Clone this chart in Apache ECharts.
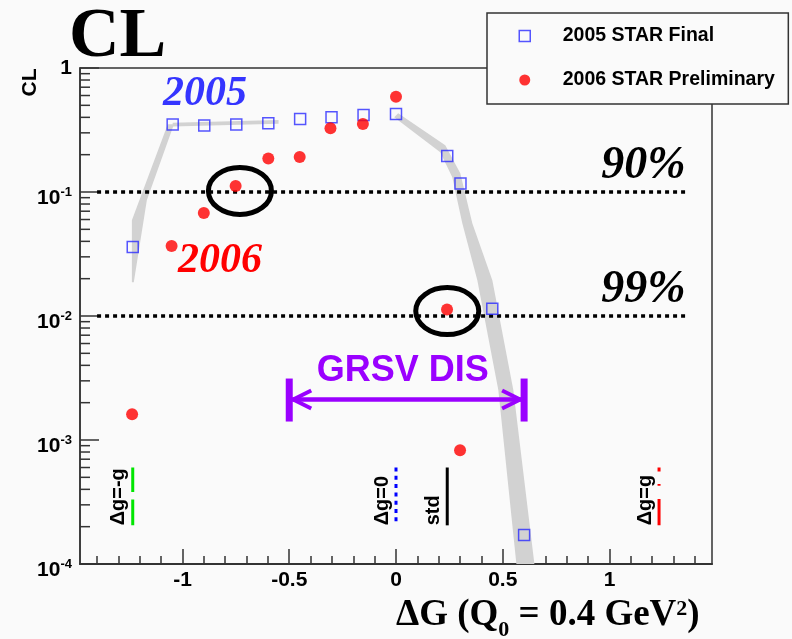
<!DOCTYPE html>
<html><head><meta charset="utf-8">
<script src="https://cdn.jsdelivr.net/npm/echarts@6/dist/echarts.min.js"></script>
<style>html,body{margin:0;padding:0;background:#fafafa}#c{width:792px;height:639px}</style>
</head><body><div id="c"></div>
<script>
// ---- data ----
const dg2005 = [-1.233,-1.046,-0.898,-0.748,-0.598,-0.449,-0.302,-0.152,0,0.240,0.302,0.451,0.600];
const cl2005 = [0.036,0.351,0.343,0.351,0.358,0.388,0.400,0.418,0.426,0.195,0.117,0.01145,0.000171];
const dg2006 = [-1.236,-1.051,-0.900,-0.751,-0.598,-0.451,-0.307,-0.155,0,0.239,0.300];
const cl2006 = [0.00161,0.0367,0.0677,0.1117,0.186,0.1915,0.327,0.353,0.587,0.0113,0.000826];

// 2005 uncertainty band outlines [dG, CL]
const bandLeft = [[-1.069,0.352],[-1.040,0.352],[-1.167,0.0857],[-1.228,0.0187],[-1.237,0.0187],[-1.237,0.0591]];
const bandFlat = [[-1.046,0.362],[-0.55,0.380],[-0.55,0.355],[-1.046,0.338]];
const bandRight = [[0.0103,0.431],[0.2308,0.238],[0.3011,0.1415],[0.3574,0.056],[0.4512,0.0194],[0.5497,0.00252],[0.6482,0.0001],
                   [0.5638,0.0001],[0.4794,0.00252],[0.3809,0.0194],[0.3105,0.056],[0.2636,0.1315],[0.2073,0.209],[-0.0084,0.400]];

const clLevels = [0.1, 0.01];
const clLevelLabels = ['90%', '99%'];
const clLineFrom = -1.40, clLineTo = 1.356;

const theoryX = [-1.233, 0, 0.240, 1.232];
const theoryLabels = ['\u0394g=-g', '\u0394g=0', 'std', '\u0394g=g'];
const theoryColors = ['#00e600', '#0000ff', '#000000', '#ff0000'];
const theoryDash = [[24.4,7.6,40,0], [4,4.3], null, [4,12.6,1.7,13.3,40,0]];
const theoryTop = 6.0e-4, theoryBottom = 2.05e-4;

const grsvFrom = -0.5, grsvTo = 0.6, grsvCL = 2.12e-3;
const circled = [[-0.731, 0.102], [0.240, 0.01096]];

const xMajor = [-1, -0.5, 0, 0.5, 1];
const xMinor = [-1.4,-1.3,-1.2,-1.1,-0.9,-0.8,-0.7,-0.6,-0.4,-0.3,-0.2,-0.1,0.1,0.2,0.3,0.4,0.6,0.7,0.8,0.9,1.1,1.2,1.3,1.4];
const yMinor = [2e-4,3e-4,4e-4,5e-4,6e-4,7e-4,8e-4,9e-4,2e-3,3e-3,4e-3,5e-3,6e-3,7e-3,8e-3,9e-3,
                2e-2,3e-2,4e-2,5e-2,6e-2,7e-2,8e-2,9e-2,0.2,0.3,0.4,0.5,0.6,0.7,0.8,0.9];
const xMin = -1.48, xMax = 1.48, yMin = 1e-4, yMax = 1;

// ---- chart ----
const chart = echarts.init(document.getElementById('c'), null, {renderer:'canvas'});
const SANS = 'Liberation Sans', SERIF = 'Liberation Serif';
const PURPLE = '#9a00ff';

const option = {
  backgroundColor: '#fafafa',
  animation: false,
  grid: {left:80, top:68, width:632, height:496, show:true, borderColor:'#333', borderWidth:1.5, backgroundColor:'transparent'},
  legend: {
    orient:'vertical', left:487, top:13, padding:[13,13.5,14,31.5], itemGap:24,
    itemWidth:11, itemHeight:11,
    backgroundColor:'#fafafa', borderColor:'#333', borderWidth:1.5,
    textStyle:{fontSize:19.5, fontWeight:'bold', fontFamily:SANS, color:'#000', lineHeight:20, padding:[0,0,0,27.5]},
    data:[
      {name:'2005 STAR Final', icon:'rect', itemStyle:{color:'rgba(0,0,0,0)', borderColor:'#2b2bff', borderWidth:1.5}},
      {name:'2006 STAR Preliminary', icon:'circle', itemStyle:{color:'#ff0000', borderWidth:0}}
    ],
    selectedMode:false
  },
  xAxis: [
    {type:'value', min:xMin, max:xMax,
     axisLine:{show:true, onZero:false, lineStyle:{color:'#333', width:2}},
     axisTick:{show:true, inside:true, length:15, customValues:xMajor, lineStyle:{color:'#333', width:1.5}},
     axisLabel:{show:true, customValues:xMajor, margin:6, fontSize:21, fontWeight:'bold', fontFamily:SANS, color:'#000', formatter:v=>String(v)},
     splitLine:{show:false}},
    {type:'value', min:xMin, max:xMax, position:'bottom',
     axisLine:{show:false, onZero:false},
     axisTick:{show:true, inside:true, length:8, customValues:xMinor, lineStyle:{color:'#333', width:1.5}},
     axisLabel:{show:false}, splitLine:{show:false}}
  ],
  yAxis: {type:'log', logBase:10, min:yMin, max:yMax, position:'left',
     axisLine:{show:true, onZero:false, lineStyle:{color:'#333', width:1.5}},
     axisTick:{show:true, inside:true, length:19, lineStyle:{color:'#333', width:1.5}},
     axisLabel:{margin:8, color:'#000',
       formatter: v => { const e = Math.round(Math.log10(v)); return e === 0 ? '{b|1}' : '{b|10}{s|' + e + '}'; },
       rich:{
         b:{fontSize:21, fontWeight:'bold', fontFamily:SANS, color:'#000', lineHeight:22, verticalAlign:'bottom'},
         s:{fontSize:13, fontWeight:'bold', fontFamily:SANS, color:'#000', lineHeight:34, verticalAlign:'middle'}
       }},
     splitLine:{show:false}, minorTick:{show:false}},
  series: [
    { // uncertainty band
      type:'custom', name:'band', z:1, silent:true, data:[[0, 0.5]],
      renderItem:(params, api) => {
        const mk = pts => ({type:'polygon', shape:{points: pts.map(p => api.coord(p))}, style:{fill:'#d2d2d2', stroke:null}});
        return {type:'group', children:[mk(bandLeft), mk(bandFlat), mk(bandRight)]};
      }
    },
    { // y minor ticks
      type:'custom', name:'yminor', z:2, silent:true,
      data: yMinor.map(v => [xMin, v]),
      renderItem:(params, api) => {
        const p = api.coord([api.value(0), api.value(1)]);
        return {type:'line', shape:{x1:p[0], y1:p[1], x2:p[0]+10, y2:p[1]}, style:{stroke:'#333', lineWidth:1.5}};
      }
    },
    { // CL level lines
      type:'custom', name:'levels', z:2, silent:true,
      data: clLevels.map(v => [clLineFrom, v, clLineTo]),
      renderItem:(params, api) => {
        const p1 = api.coord([api.value(0), api.value(1)]);
        const p2 = api.coord([api.value(2), api.value(1)]);
        return {type:'group', children:[
          {type:'line', shape:{x1:p1[0], y1:p1[1], x2:p2[0], y2:p2[1]}, style:{stroke:'#000', lineWidth:3.5, lineDash:[4,4]}},
          {type:'text', x:p2[0], y:p2[1]-26, style:{text:clLevelLabels[params.dataIndex], font:'italic bold 46px "'+SERIF+'"', fill:'#000', align:'right', verticalAlign:'middle'}}
        ]};
      }
    },
    { // theory markers
      type:'custom', name:'theory', z:2, silent:true,
      data: theoryX.map(x => [x, theoryTop, theoryBottom]),
      renderItem:(params, api) => {
        const i = params.dataIndex;
        const p1 = api.coord([api.value(0), api.value(1)]);
        const p2 = api.coord([api.value(0), api.value(2)]);
        return {type:'group', children:[
          {type:'line', shape:{x1:p1[0], y1:p1[1], x2:p2[0], y2:p2[1]}, style:{stroke:theoryColors[i], lineWidth:3, lineDash:theoryDash[i]}},
          {type:'text', x:p1[0]-14, y:p2[1], rotation:Math.PI/2,
           style:{text:theoryLabels[i], font:'bold 20px "'+SANS+'"', fill:'#000', align:'left', verticalAlign:'middle'}}
        ]};
      }
    },
    { name:'2005 STAR Final', type:'scatter', z:5,
      data: dg2005.map((x,i) => [x, cl2005[i]]),
      symbol:'rect', symbolSize:11,
      itemStyle:{color:'rgba(0,0,0,0)', borderColor:'#2b2bff', borderWidth:1.5}},
    { name:'2006 STAR Preliminary', type:'scatter', z:5,
      data: dg2006.map((x,i) => [x, cl2006[i]]),
      symbol:'circle', symbolSize:12,
      itemStyle:{color:'#ff0000'}},
    { // circled points
      type:'custom', name:'circled', z:6, silent:true,
      data: circled,
      renderItem:(params, api) => {
        const c = api.coord([api.value(0), api.value(1)]);
        return {type:'ellipse', shape:{cx:c[0], cy:c[1], rx:31.5, ry:23.5}, style:{fill:null, stroke:'#000', lineWidth:5}};
      }
    },
    { // GRSV DIS range
      type:'custom', name:'grsv', z:6, silent:true,
      data: [[grsvFrom, grsvCL, grsvTo]],
      renderItem:(params, api) => {
        const a = api.coord([api.value(0), api.value(1)]);
        const b = api.coord([api.value(2), api.value(1)]);
        const y = a[1], x1 = a[0], x2 = b[0];
        const st = {stroke:PURPLE, lineWidth:4.5, fill:null};
        return {type:'group', children:[
          {type:'line', shape:{x1:x1+3, y1:y, x2:x2-3, y2:y}, style:st},
          {type:'line', shape:{x1:x1, y1:y-21, x2:x1, y2:y+22}, style:{stroke:PURPLE, lineWidth:7}},
          {type:'line', shape:{x1:x2, y1:y-21, x2:x2, y2:y+22}, style:{stroke:PURPLE, lineWidth:7}},
          {type:'polyline', shape:{points:[[x1+22,y-9],[x1+4,y],[x1+22,y+9]]}, style:{stroke:PURPLE, lineWidth:4, fill:null}},
          {type:'polyline', shape:{points:[[x2-22,y-9],[x2-4,y],[x2-22,y+9]]}, style:{stroke:PURPLE, lineWidth:4, fill:null}},
          {type:'text', x:(x1+x2)/2-4, y:y-28, style:{text:'GRSV DIS', font:'bold 36px "'+SANS+'"', fill:PURPLE, align:'center', verticalAlign:'middle'}}
        ]};
      }
    }
  ],
  graphic: [
    {type:'text', x:69, y:38, style:{text:'CL', font:'bold 70px "'+SERIF+'"', fill:'#000', align:'left', verticalAlign:'middle'}},
    {type:'text', x:30, y:82.5, rotation:Math.PI/2, style:{text:'CL', font:'bold 21px "'+SANS+'"', fill:'#000', align:'center', verticalAlign:'middle'}},
    {type:'text', x:163, y:94, style:{text:'2005', font:'italic bold 42px "'+SERIF+'"', fill:'#3535ff', align:'left', verticalAlign:'middle'}},
    {type:'text', x:178, y:261, style:{text:'2006', font:'italic bold 42px "'+SERIF+'"', fill:'#ff0000', align:'left', verticalAlign:'middle'}},
    {type:'text', x:396, y:595.5, style:{
      text:'{m|\u0394G (Q}{s|0}{m| = 0.4 GeV}{p|2}{m|)}', align:'left', verticalAlign:'top', fill:'#000',
      rich:{
        m:{fontSize:37, fontWeight:'bold', fontFamily:SERIF, fill:'#000', lineHeight:40, verticalAlign:'middle'},
        s:{fontSize:22, fontWeight:'bold', fontFamily:SERIF, fill:'#000', lineHeight:40, height:10, verticalAlign:'bottom'},
        p:{fontSize:22, fontWeight:'bold', fontFamily:SERIF, fill:'#000', lineHeight:40, height:28, verticalAlign:'top'}
      }}}
  ]
};
chart.setOption(option);
</script></body></html>
